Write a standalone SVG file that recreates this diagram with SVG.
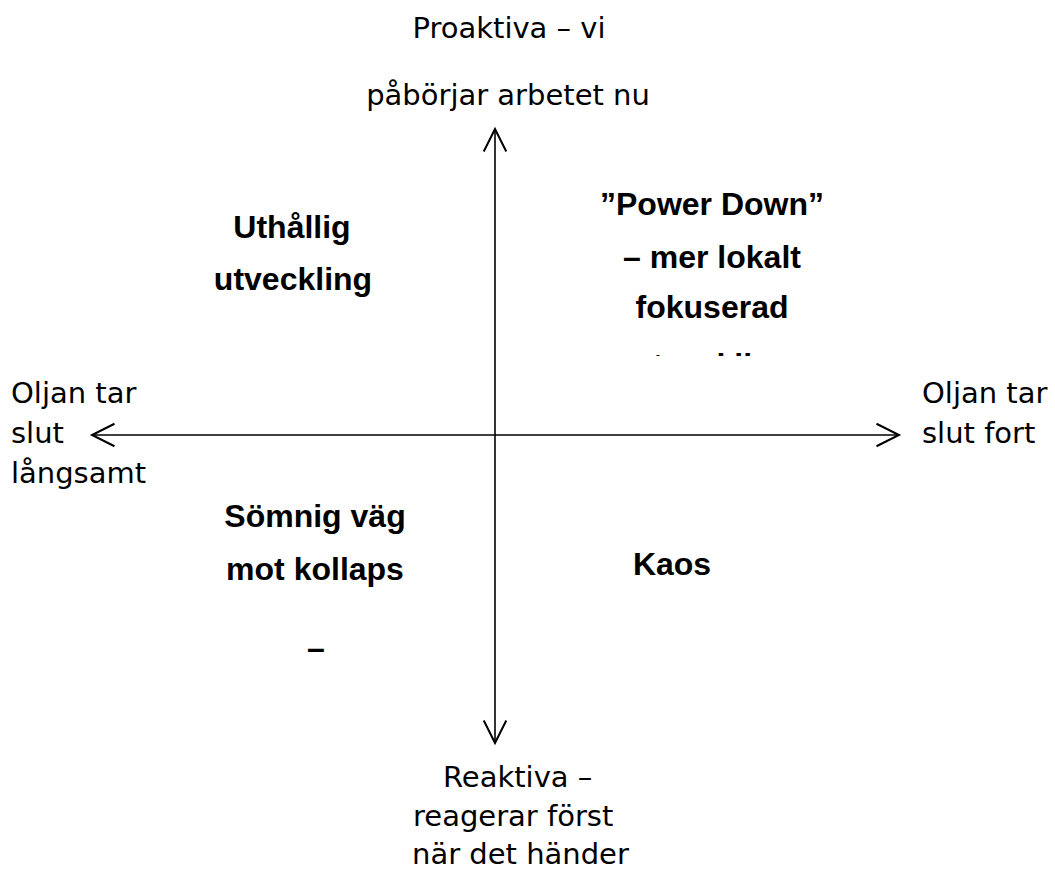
<svg xmlns="http://www.w3.org/2000/svg" width="1055" height="870" viewBox="0 0 1055 870">
<style>
.lbl{font-family:"DejaVu Sans","Liberation Sans",sans-serif;font-size:29px;fill:#000}
.q{font-family:"Liberation Sans","Noto Sans",sans-serif;font-size:32px;font-weight:bold;fill:#000;text-anchor:middle}
.axis{stroke:#000;stroke-width:1.6;fill:none}
</style>
<defs>
<marker id="arr" markerUnits="userSpaceOnUse" markerWidth="30" markerHeight="30" refX="0" refY="0" viewBox="-20 -12 22 24" orient="auto-start-reverse">
<path d="M-18,-9 L0,0 L-18,9" fill="none" stroke="#000" stroke-width="1.6"/>
</marker>
<clipPath id="clipTR"><rect x="550" y="330" width="320" height="26"/></clipPath>
</defs>
<rect width="1055" height="870" fill="#fff"/>
<g id="connectors">
<line class="axis" x1="495" y1="129" x2="495" y2="743" marker-start="url(#arr)" marker-end="url(#arr)"/>
<line class="axis" x1="92" y1="435" x2="899" y2="435" marker-start="url(#arr)" marker-end="url(#arr)"/>
</g>
<g id="top-label">
<text class="lbl" x="509" y="38" text-anchor="middle">Proaktiva – vi</text>
<text class="lbl" x="508" y="105" text-anchor="middle">påbörjar arbetet nu</text>
</g>
<g id="bottom-label">
<text class="lbl" x="443" y="787">Reaktiva –</text>
<text class="lbl" x="413" y="826">reagerar först</text>
<text class="lbl" x="412" y="864">när det händer</text>
</g>
<g id="left-label">
<text class="lbl" x="11" y="403">Oljan tar</text>
<text class="lbl" x="11" y="443">slut</text>
<text class="lbl" x="11" y="483">långsamt</text>
</g>
<g id="right-label">
<text class="lbl" x="922" y="403">Oljan tar</text>
<text class="lbl" x="922" y="443">slut fort</text>
</g>
<g id="q-top-left">
<text class="q" x="292" y="238">Uthållig</text>
<text class="q" x="293" y="290">utveckling</text>
</g>
<g id="q-top-right">
<text class="q" x="712" y="215">”Power Down”</text>
<text class="q" x="712" y="268">– mer lokalt</text>
<text class="q" x="712" y="318">fokuserad</text>
<text class="q" x="712" y="376" clip-path="url(#clipTR)">utveckling</text>
</g>
<g id="q-bottom-left">
<text class="q" x="315" y="527">Sömnig väg</text>
<text class="q" x="315" y="580">mot kollaps</text>
<text class="q" x="316" y="659">–</text>
</g>
<g id="q-bottom-right">
<text class="q" x="672" y="575">Kaos</text>
</g>
</svg>
